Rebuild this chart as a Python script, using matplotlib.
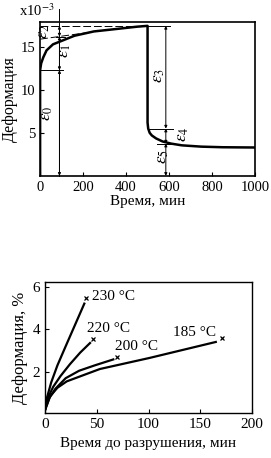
import numpy as np
import matplotlib
matplotlib.use("Agg")
import matplotlib.pyplot as plt

plt.rcParams['font.family'] = ['Liberation Serif', 'DejaVu Serif']
plt.rcParams['mathtext.fontset'] = 'stix'

# ---- top chart data: creep curve (x1e-3) ----
creep_t = [0, 0, 5, 15, 30, 60, 100, 160, 250, 360, 450, 500,
           500, 503, 510, 520, 540, 570, 610, 660, 750, 850, 1000]
creep_e = [0, 12.3, 13.1, 13.8, 14.6, 15.3, 15.7, 16.3, 16.8, 17.1, 17.35, 17.45,
           6.2, 5.5, 5.0, 4.7, 4.35, 4.0, 3.75, 3.55, 3.4, 3.33, 3.3]
top_xticks = [0, 200, 400, 600, 800, 1000]
top_yticks = [5, 10, 15]

# ---- bottom chart data ----
temps = ['230 °C', '220 °C', '200 °C', '185 °C']
curve_t = [[0, 2, 6, 12, 20, 29, 38],
           [0, 3, 8, 15, 24, 34, 43.5],
           [0, 4, 10, 20, 33, 48, 66],
           [0, 5, 12, 21, 53, 101, 165]]
curve_e = [[0.2, 0.8, 1.5, 2.3, 3.2, 4.2, 5.2],
           [0.2, 0.8, 1.3, 1.8, 2.35, 2.9, 3.35],
           [0.2, 0.75, 1.2, 1.7, 2.05, 2.3, 2.58],
           [0.2, 0.85, 1.25, 1.55, 2.13, 2.65, 3.4]]
cross_t = [39.6, 46, 70, 171]
cross_e = [5.45, 3.52, 2.7, 3.6]
label_t = [45, 41, 67.5, 124]
label_e = [5.55, 4.05, 3.2, 3.85]
bot_xticks = [0, 50, 100, 150, 200]
bot_yticks = [2, 4, 6]

fig = plt.figure(figsize=(2.71, 4.58), dpi=100)

# ================= TOP =================
ax1 = fig.add_axes([0.148, 0.616, 0.793, 0.336])
ax1.plot(creep_t, creep_e, color='black', lw=1.8, solid_joinstyle='round')
ax1.set_xlim(0, 1000)
ax1.set_ylim(0, 17.9)
ax1.set_xticks(top_xticks)
ax1.set_yticks(top_yticks)
ax1.tick_params(direction='in', length=3, labelsize=10.5, width=0.8)
ax1.set_xlabel('Время, мин', fontsize=11, labelpad=1)
ax1.set_ylabel('Деформация', fontsize=11.5, labelpad=2)
for s in ax1.spines.values():
    s.set_linewidth(1.2)
ax1.text(-0.1, 1.02, r'x10$^{-3}$', transform=ax1.transAxes, fontsize=10.5,
         ha='left', va='bottom')

lk = dict(color='black', lw=0.7)
# dashed lines
ax1.plot([0, 495], [17.45, 17.45], ls=(0, (8, 3)), **lk)
ax1.plot([495, 605], [17.45, 17.45], **lk)
ax1.plot([0, 230], [15.9, 16.7], ls=(0, (8, 3)), **lk)
# left annotation
ax1.plot([0, 108], [12.3, 12.3], **lk)
ax1.plot([90, 90], [0, 19.4], clip_on=False, **lk)
arr = dict(arrowstyle='<|-|>', color='black', lw=0.7, mutation_scale=4,
           shrinkA=0, shrinkB=0)
ax1.annotate('', xy=(90, 0), xytext=(90, 12.3), arrowprops=arr)
ax1.annotate('', xy=(90, 12.3), xytext=(90, 16.2), arrowprops=arr)
ax1.annotate('', xy=(90, 16.2), xytext=(90, 17.45), arrowprops=arr)
ax1.plot([75, 115], [16.2, 16.2], **lk)
# right annotation
ax1.plot([500, 620], [5.5, 5.5], **lk)
ax1.plot([545, 625], [3.75, 3.75], **lk)
ax1.annotate('', xy=(585, 0), xytext=(585, 3.75), arrowprops=arr)
ax1.annotate('', xy=(585, 3.75), xytext=(585, 5.5), arrowprops=arr)
ax1.annotate('', xy=(585, 5.5), xytext=(585, 17.45), arrowprops=arr)

eps_lab = [r'$\varepsilon_0$', r'$\varepsilon_1$', r'$\varepsilon_2$',
           r'$\varepsilon_3$', r'$\varepsilon_4$', r'$\varepsilon_5$']
eps_t = [33, 118, 18, 555, 665, 570]
eps_e = [7.3, 14.6, 16.8, 11.7, 4.8, 2.2]
for lab, t, e in zip(eps_lab, eps_t, eps_e):
    ax1.text(t, e, lab, rotation=90, fontsize=12.5, ha='center', va='center')

# ================= BOTTOM =================
ax2 = fig.add_axes([0.166, 0.098, 0.764, 0.287])
for t, e in zip(curve_t, curve_e):
    ax2.plot(t, e, color='black', lw=1.6)
ax2.plot(cross_t, cross_e, ls='none', marker='x', ms=3, mew=0.9, color='black')
for lab, t, e in zip(temps, label_t, label_e):
    ax2.text(t, e, lab, fontsize=11, ha='left', va='center')
ax2.set_xlim(0, 200)
ax2.set_ylim(0.06, 6.23)
ax2.set_xticks(bot_xticks)
ax2.set_yticks(bot_yticks)
ax2.tick_params(direction='in', length=3, labelsize=11, width=0.8)
ax2.set_xlabel('Время до разрушения, мин', fontsize=11, labelpad=4)
ax2.set_ylabel('Деформация, %', fontsize=12, labelpad=3)
for s in ax2.spines.values():
    s.set_linewidth(1.0)

fig.savefig('out.png', dpi=100)
